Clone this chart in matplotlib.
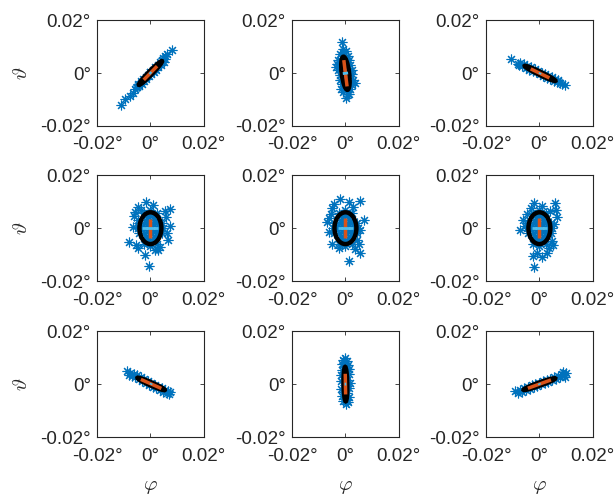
import numpy as np
import matplotlib
matplotlib.use("Agg")
import matplotlib.pyplot as plt
from matplotlib.patches import Ellipse

plt.rcParams['font.family'] = ['Liberation Sans', 'DejaVu Sans']
plt.rcParams['mathtext.fontset'] = 'cm'

# scatter points per panel, in millidegrees (phi, theta)
pts_00 = [(-11.0, -12.0), (-9.5, -9.7), (-7.8, -8.6), (-6.6, -7.4), (-5.8, -6.0), (7.9, 8.6),
          (6.2, 7.0), (5.4, 6.3), (4.8, 5.6), (-5.0, -5.2), (-4.6, -4.0), (-4.2, -5.0),
          (-3.6, -3.2), (-3.2, -4.1), (-2.8, -2.4), (-2.4, -3.1), (-1.8, -1.4), (-1.5, -2.3),
          (-1.0, -0.6), (-0.6, -1.3), (0.0, 0.4), (0.3, -0.5), (0.9, 1.3), (1.2, 0.4),
          (1.8, 2.2), (2.1, 1.3), (2.7, 3.1), (3.0, 2.2), (3.6, 4.1), (4.0, 3.1), (4.4, 5.0),
          (4.9, 4.2), (5.6, 5.4), (-4.8, -4.4), (-0.2, 0.2)]
pts_01 = [(-1.4, 11.7), (0.2, -9.5), (-0.8, 9.2), (1.0, -7.8), (-1.0, 8.0), (0.3, 8.3),
          (-2.0, 7.0), (-0.5, 6.8), (0.8, 6.5), (-2.6, 5.0), (-1.2, 5.5), (1.2, 4.8),
          (-3.3, 3.5), (-1.8, 3.0), (1.8, 3.2), (-2.6, 1.0), (2.3, 1.2), (-2.0, -0.8),
          (2.6, -0.5), (-2.2, -2.5), (2.9, -2.8), (-1.3, -4.0), (2.4, -4.5), (-1.8, -6.0),
          (0.2, -6.3), (1.8, -6.2), (-0.8, -7.3), (1.3, -7.8), (-0.3, 3.0), (0.5, -3.0),
          (0.0, 0.5), (-0.6, -1.5), (0.9, 1.8), (3.4, -3.6), (-3.6, 2.2)]
pts_02 = [(-10.8, 5.2), (9.7, -4.7), (8.5, -4.2), (-8.0, 3.3), (-7.2, 3.9), (-6.5, 2.6),
          (-5.8, 3.3), (-5.0, 2.0), (-4.5, 2.8), (-3.8, 1.3), (-3.2, 2.2), (-2.5, 0.9),
          (-1.8, 1.4), (-1.2, 0.2), (-0.5, 0.7), (0.2, -0.5), (0.8, 0.0), (1.5, -1.2),
          (2.1, -0.5), (2.8, -1.8), (3.4, -1.1), (4.0, -2.4), (4.6, -1.6), (5.3, -3.0),
          (5.9, -2.2), (6.5, -3.5), (7.1, -2.8), (7.7, -3.9), (-7.6, 3.0), (6.8, -3.2)]
# points filling the interior and rim of the round ellipses (middle row)
pts_core = [(0.0, 0.0), (-1.5, 3.0), (1.6, 3.0), (-1.5, -3.3), (1.6, -3.3), (-2.8, 0.0),
            (2.9, 0.0), (0.0, 4.9), (0.0, -5.1), (-1.0, 1.5), (1.0, 1.5), (-1.0, -1.5),
            (1.0, -1.5), (-2.5, 2.0), (2.5, 2.0), (-2.5, -2.0), (2.5, -2.0), (-1.0, 4.2),
            (1.0, 4.2), (-1.0, -4.2), (1.0, -4.2), (0.0, 2.5), (0.0, -2.5), (-3.5, 1.0),
            (3.5, -1.0), (-4.3, 2.0), (-4.3, -2.0), (4.3, 2.0), (4.3, -2.0), (-2.5, 5.8),
            (2.5, 5.8), (-2.5, -5.8), (2.5, -5.8), (0.0, 6.8), (0.0, -6.8), (-4.8, 0.0),
            (4.8, 0.0)]
pts_10 = [(-0.5, -14.1), (-2.1, -10.1), (2.9, -8.3), (6.6, -4.5), (-8.0, -5.1), (-6.5, 0.3),
          (-4.6, -7.6), (7.3, 0.8), (7.3, 7.4), (5.8, 4.3), (-1.5, 9.9), (-4.6, 8.0),
          (1.0, 8.6), (-5.9, 6.1), (3.5, -7.0), (1.6, -8.3), (-5.3, -6.4), (6.3, -2.0),
          (-4.6, 3.0), (-3.5, 7.0), (5.5, 6.5), (-6.0, 4.5)] + pts_core
pts_11 = [(1.5, -12.3), (-2.3, -7.3), (-5.1, -6.0), (4.9, -6.0), (5.5, -9.3), (4.3, -4.5),
          (7.0, 3.0), (5.3, 10.3), (1.5, 9.9), (-2.0, 11.1), (-4.3, 9.3), (-5.5, 5.5),
          (-6.8, 2.4), (-6.0, -1.4), (5.5, -0.8), (3.0, 8.0), (-5.0, 7.5), (3.5, -7.8),
          (-6.2, 4.0)] + pts_core
pts_12 = [(-1.9, -14.75), (-2.5, -10.5), (1.0, -11.0), (3.5, -7.6), (4.75, -4.75), (5.1, -6.4),
          (-7.4, -0.5), (-6.1, 3.0), (-4.6, 5.5), (-1.9, 9.6), (1.0, 8.25), (6.0, 9.6),
          (6.4, 7.0), (6.6, 4.25), (5.6, 1.75), (-0.9, -9.25), (2.9, -9.5), (-3.0, 7.5),
          (4.0, 6.5), (-5.5, 1.0)] + pts_core
pts_20 = [(-8.9, 4.9), (-7.6, 4.3), (-6.9, 3.1), (-6.2, 4.0), (-5.6, 2.6), (-4.9, 3.3),
          (-4.3, 1.9), (-3.6, 2.5), (-3.0, 1.1), (-2.3, 1.8), (-1.7, 0.5), (-1.0, 1.0),
          (-0.4, -0.2), (0.3, 0.3), (0.9, -0.9), (1.6, -0.4), (2.2, -1.6), (2.9, -1.0),
          (3.5, -2.3), (4.2, -1.6), (4.8, -2.9), (5.5, -2.2), (6.1, -3.4), (6.7, -2.6),
          (7.3, -3.1), (-7.9, 3.6), (7.0, -3.6)]
pts_21 = [(0.0, 10.0), (-0.8, 9.0), (0.7, 8.8), (-1.2, 7.5), (0.9, 7.3), (-0.3, 6.5),
          (-1.4, 5.5), (1.3, 5.8), (0.2, 4.8), (-1.5, 3.5), (1.5, 3.8), (-0.5, 2.5),
          (0.6, 1.5), (-1.6, 1.0), (1.6, 0.5), (0.0, -0.3), (-1.5, -1.8), (1.4, -1.5),
          (-0.4, -2.8), (0.7, -3.5), (-1.3, -4.5), (1.3, -4.8), (0.0, -5.5), (-0.9, -6.5),
          (0.8, -6.8), (0.1, -7.5), (-0.5, 8.0), (0.4, -6.0)]
pts_22 = [(-9.0, -2.6), (-8.0, -3.2), (-7.2, -2.2), (-6.5, -2.8), (-5.8, -1.5), (-5.0, -2.2),
          (-4.3, -1.0), (-3.6, -1.7), (-2.9, -0.5), (-2.2, -1.2), (-1.5, 0.1), (-0.8, -0.6),
          (0.0, 0.6), (0.6, -0.1), (1.3, 1.1), (2.0, 0.4), (2.7, 1.6), (3.4, 0.9), (4.1, 2.1),
          (4.8, 1.4), (5.5, 2.7), (6.2, 1.9), (6.9, 3.2), (7.6, 2.5), (8.3, 3.8), (9.1, 3.4),
          (10.0, 4.2), (9.5, 2.6), (8.8, 4.6)]
points = [pts_00, pts_01, pts_02, pts_10, pts_11, pts_12, pts_20, pts_21, pts_22]

# ellipse per panel: centre x, centre y, semi-major, semi-minor, angle (deg), major line half, minor line half (mdeg)
ell_cx = [0.0, 0.0, 0.25, 0.0, 0.0, 0.0, 0.25, 0.0, 0.0]
ell_cy = [0.0, -0.1, -0.15, 0.0, 0.0, 0.0, 0.07, 0.0, 0.0]
ell_a = [6.2, 6.3, 6.4, 6.0, 6.0, 6.0, 5.6, 6.5, 6.3]
ell_b = [0.7, 1.4, 0.6, 4.1, 4.1, 4.1, 0.6, 0.7, 0.6]
ell_ang = [46, 97, -26, 90, 90, 90, -24, 91, 20]
major_half = [3.6, 5.0, 3.9, 3.6, 3.75, 3.75, 4.2, 3.9, 4.6]
minor_half = [0.4, 1.0, 0.3, 3.0, 2.7, 2.8, 0.3, 0.3, 0.3]

ticks = [-0.02, 0, 0.02]
tick_labels = ['-0.02°', '0°', '0.02°']

BLUE = '#0072BD'
ORANGE = '#D95319'
LIGHT = '#4DBEEE'
DARK = '#262626'

fig = plt.figure(figsize=(6.14, 4.95), dpi=100)
lefts = [0.158, 0.4756, 0.7915]
bottoms = [0.7455, 0.432, 0.117]
w, h = 0.174, 0.214

s = 1e-3
for i in range(9):
    r, c = divmod(i, 3)
    ax = fig.add_axes([lefts[c], bottoms[r], w, h])
    p = np.array(points[i]) * s
    ax.plot(p[:, 0], p[:, 1], ls='none', marker=(8, 2, 0), ms=7, mew=0.8, color=BLUE)
    cx, cy = ell_cx[i] * s, ell_cy[i] * s
    ax.add_patch(Ellipse((cx, cy), 2 * ell_a[i] * s, 2 * ell_b[i] * s, angle=ell_ang[i],
                         fill=False, ec='k', lw=3.2, zorder=3))
    t = np.deg2rad(ell_ang[i])
    u = np.array([np.cos(t), np.sin(t)])
    v = np.array([-np.sin(t), np.cos(t)])
    m = major_half[i] * s
    n = minor_half[i] * s
    ax.plot([cx - m * u[0], cx + m * u[0]], [cy - m * u[1], cy + m * u[1]],
            color=ORANGE, lw=2.5, solid_capstyle='butt', zorder=4)
    ax.plot([cx - n * v[0], cx + n * v[0]], [cy - n * v[1], cy + n * v[1]],
            color=LIGHT, lw=2, solid_capstyle='butt', zorder=5)

    ax.set_xlim(-0.02, 0.02)
    ax.set_ylim(-0.02, 0.02)
    ax.set_xticks(ticks)
    ax.set_yticks(ticks)
    ax.set_xticklabels(tick_labels)
    ax.set_yticklabels(tick_labels)
    ax.tick_params(direction='in', length=3, width=0.6, colors=DARK, labelsize=13.5,
                   top=True, right=True)
    ax.tick_params(axis='x', pad=7.5)
    ax.tick_params(axis='y', pad=4.5)
    for sp in ax.spines.values():
        sp.set_color(DARK)
        sp.set_linewidth(0.8)
    if c == 0:
        ax.set_ylabel(r'$\vartheta$', fontsize=15, color=DARK)
        ax.yaxis.set_label_coords(-0.62, 0.5)
    if r == 2:
        ax.set_xlabel(r'$\varphi$', fontsize=15, color=DARK)
        ax.xaxis.set_label_coords(0.5, -0.38)

fig.savefig('out.png', dpi=100)
